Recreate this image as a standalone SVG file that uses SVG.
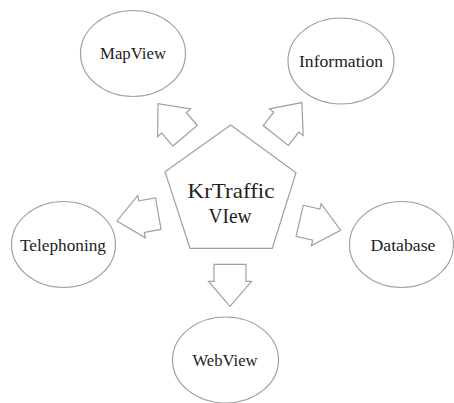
<svg xmlns="http://www.w3.org/2000/svg" width="454" height="403" viewBox="0 0 454 403">
<style>
.n{fill:#fff;stroke:#a0a0a0;stroke-width:1.2}
.t{font-family:"Liberation Serif","Times New Roman",serif;font-size:16px;fill:#222;text-anchor:middle}
.c{font-family:"Liberation Serif","Times New Roman",serif;font-size:21px;fill:#222;text-anchor:middle}
.a{fill:#fff;stroke:#a0a0a0;stroke-width:1.2;stroke-linejoin:miter}
</style>
<defs>
<polygon id="arr" points="0,-16 17,-16 17,-21.5 42,0 17,21.5 17,16 0,16"/>
</defs>
<rect width="454" height="403" fill="#fff"/>
<g id="connectors">
<use href="#arr" class="a" transform="translate(185,135.8) rotate(-130)"/>
<use href="#arr" class="a" transform="translate(275.8,135.5) rotate(-51.7)"/>
<use href="#arr" class="a" transform="translate(158.3,213.7) rotate(170)"/>
<use href="#arr" class="a" transform="translate(299.7,220.8) rotate(13)"/>
<use href="#arr" class="a" transform="translate(230,264.3) rotate(90)"/>
</g>
<g id="krtraffic">
<polygon class="n" points="230.7,125 296,172.7 272.3,248.3 190,248.3 165,171.7"/>
<text class="c" x="231" y="198" textLength="87" lengthAdjust="spacingAndGlyphs">KrTraffic</text>
<text class="c" x="230" y="222.5" textLength="43" lengthAdjust="spacingAndGlyphs">VIew</text>
</g>
<g id="mapview">
<ellipse class="n" cx="133" cy="53.5" rx="52.5" ry="43"/>
<text class="t" x="133" y="59" textLength="66" lengthAdjust="spacingAndGlyphs">MapView</text>
</g>
<g id="information">
<ellipse class="n" cx="341" cy="61" rx="53" ry="43"/>
<text class="t" x="341" y="66.5" textLength="84" lengthAdjust="spacingAndGlyphs">Information</text>
</g>
<g id="telephoning">
<ellipse class="n" cx="63.5" cy="244.5" rx="52" ry="43"/>
<text class="t" x="63" y="250.5" textLength="86" lengthAdjust="spacingAndGlyphs">Telephoning</text>
</g>
<g id="database">
<ellipse class="n" cx="401.5" cy="244.5" rx="52" ry="43"/>
<text class="t" x="403" y="250.5" textLength="65" lengthAdjust="spacingAndGlyphs">Database</text>
</g>
<g id="webview">
<ellipse class="n" cx="225.5" cy="360" rx="53" ry="43"/>
<text class="t" x="225" y="365.5" textLength="65" lengthAdjust="spacingAndGlyphs">WebView</text>
</g>
</svg>
